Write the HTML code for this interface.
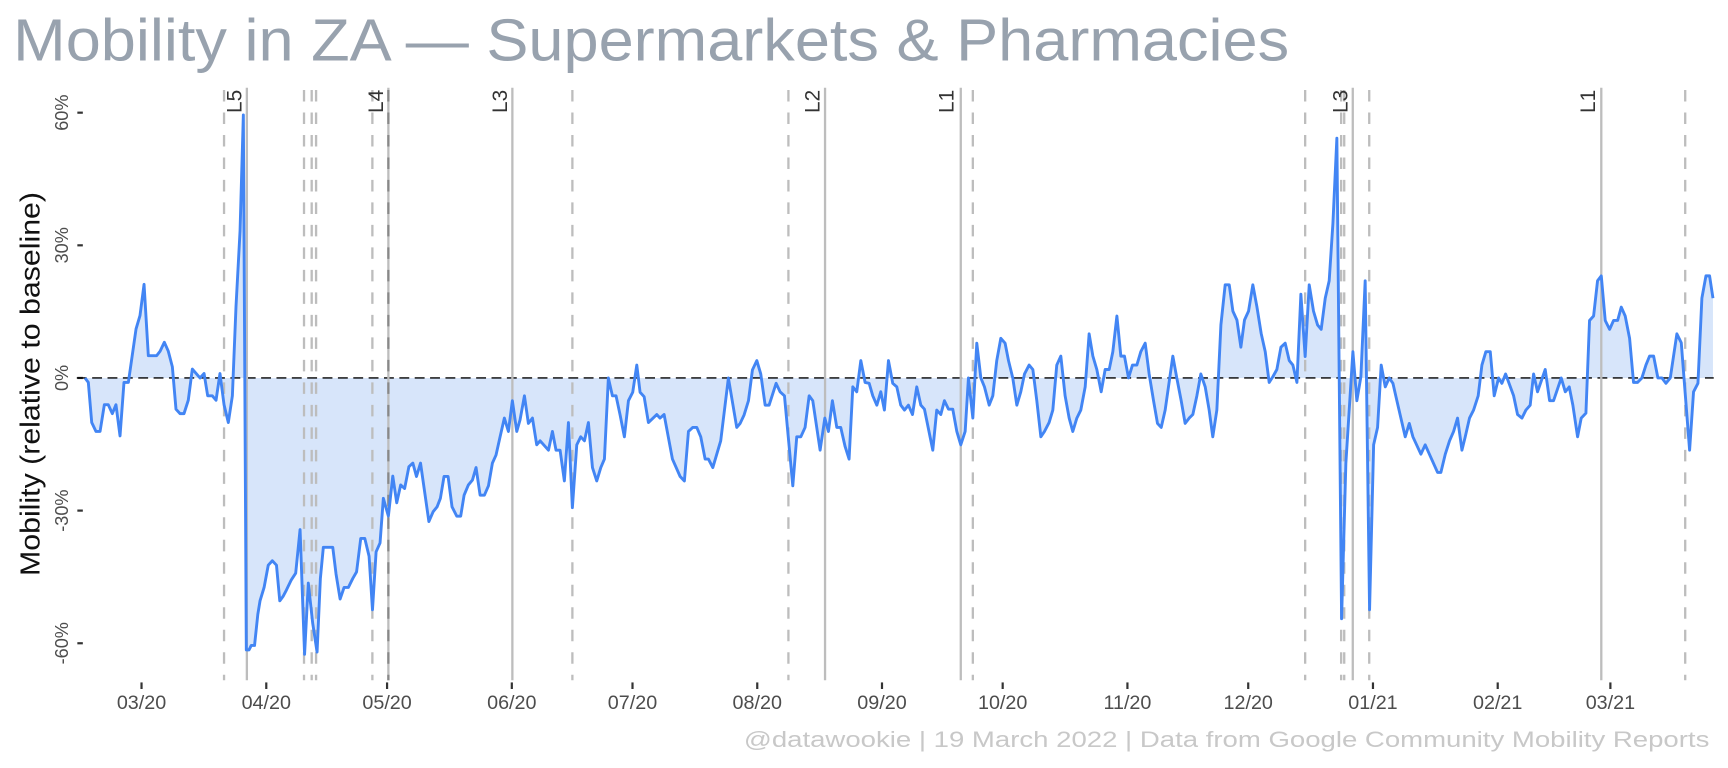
<!DOCTYPE html>
<html><head><meta charset="utf-8"><style>
html,body{margin:0;padding:0;background:#fff;width:1728px;height:768px;overflow:hidden}
svg{display:block}
text{font-family:"Liberation Sans",Arial,sans-serif}
</style></head><body>
<svg width="1728" height="768" viewBox="0 0 1575 700" xmlns="http://www.w3.org/2000/svg">
<text x="12" y="55" font-size="54" fill="#98a2ae" textLength="1163" lengthAdjust="spacingAndGlyphs">Mobility in ZA — Supermarkets &amp; Pharmacies</text>
<text transform="translate(36,350) rotate(-90)" text-anchor="middle" font-size="25" fill="#111" textLength="350" lengthAdjust="spacingAndGlyphs">Mobility (relative to baseline)</text>
<g font-size="16.5" fill="#4d4d4d" text-anchor="middle">
<text transform="translate(62,102.7) rotate(-90)">60%</text>
<text transform="translate(62,223.6) rotate(-90)">30%</text>
<text transform="translate(62,344.5) rotate(-90)">0%</text>
<text transform="translate(62,465.4) rotate(-90)">-30%</text>
<text transform="translate(62,586.3) rotate(-90)">-60%</text>
</g>
<g stroke="#333" stroke-width="2">
<line x1="70.5" x2="75.5" y1="102.7" y2="102.7"/><line x1="70.5" x2="75.5" y1="223.6" y2="223.6"/><line x1="70.5" x2="75.5" y1="344.5" y2="344.5"/><line x1="70.5" x2="75.5" y1="465.4" y2="465.4"/><line x1="70.5" x2="75.5" y1="586.3" y2="586.3"/>
<line x1="129" x2="129" y1="622" y2="628"/><line x1="242.7" x2="242.7" y1="622" y2="628"/><line x1="352.8" x2="352.8" y1="622" y2="628"/><line x1="466.5" x2="466.5" y1="622" y2="628"/><line x1="576.5" x2="576.5" y1="622" y2="628"/><line x1="690.2" x2="690.2" y1="622" y2="628"/><line x1="803.9" x2="803.9" y1="622" y2="628"/><line x1="913.9" x2="913.9" y1="622" y2="628"/><line x1="1027.6" x2="1027.6" y1="622" y2="628"/><line x1="1137.7" x2="1137.7" y1="622" y2="628"/><line x1="1251.4" x2="1251.4" y1="622" y2="628"/><line x1="1365.1" x2="1365.1" y1="622" y2="628"/><line x1="1467.8" x2="1467.8" y1="622" y2="628"/>
</g>
<g font-size="18" fill="#4d4d4d" text-anchor="middle">
<text x="129" y="646">03/20</text><text x="242.7" y="646">04/20</text><text x="352.8" y="646">05/20</text><text x="466.5" y="646">06/20</text><text x="576.5" y="646">07/20</text><text x="690.2" y="646">08/20</text><text x="803.9" y="646">09/20</text><text x="913.9" y="646">10/20</text><text x="1027.6" y="646">11/20</text><text x="1137.7" y="646">12/20</text><text x="1251.4" y="646">01/21</text><text x="1365.1" y="646">02/21</text><text x="1467.8" y="646">03/21</text>
</g>
<text x="1558" y="681" font-size="20" fill="#c8c8c8" text-anchor="end" textLength="880" lengthAdjust="spacingAndGlyphs">@datawookie | 19 March 2022 | Data from Google Community Mobility Reports</text>
<g transform="translate(0,344.5) scale(1,-4.063)">
<polygon fill="#d7e5fa" points="77.5,0 80.5,-1 83.6,-10 87.5,-12 91.2,-12 95.1,-6 98.7,-6 102.4,-8 105.7,-6 109.4,-13 113,-1 117,-1 124,11 127.6,14 131.3,21 135.2,5 142.8,5 145.9,6 149.8,8 153.4,6 157.1,2.5 160.4,-7 164.1,-8 167.7,-8 171.6,-5 175.3,2 182.3,0 186,1 189.3,-4 193.5,-4 196.9,-5 200.5,1 204.2,-6 208.1,-10 211.8,-4 215.1,16 218.8,33 221.8,59 224.5,-61 227,-61 229,-60 232,-60 235,-53 237,-50 240.7,-47 244.5,-42 248.2,-41 252,-42 255,-50 258,-49 261,-47.6 265.5,-45.3 269.5,-43.8 273.5,-34 277.6,-62 281,-46 285,-55 289,-61.5 292,-45 294.7,-38 303.3,-38 306.3,-44 310,-49.6 313.6,-47 317.5,-47 321.5,-45 325,-43.5 328.8,-36 332.5,-36 336.4,-40 339.5,-52 342.8,-39 346.4,-37 349.4,-27 354,-31 358,-22 361.6,-28 365.2,-24 368.8,-24.8 372.7,-19.9 376.3,-19.1 379.6,-22.1 383.3,-19.1 390.9,-32.2 394.8,-30 398.4,-28.9 401.4,-27 404.7,-22.1 408.4,-22.1 412,-28.9 416.3,-31 419.9,-31 423,-26.3 426.9,-24 430.6,-22.9 433.9,-20.1 437.6,-26.3 441.5,-26.3 445.2,-24.2 448.8,-19.1 452.1,-17.3 455.8,-13.2 459.7,-9 463.4,-12 467,-5.1 471,-12 474,-9.4 478,-4 481.6,-10.2 485.3,-9 489.2,-15 492.3,-14.1 499.9,-16.2 503.5,-12 506.8,-16.2 510.5,-16.2 514.4,-23.1 518.1,-10 521.7,-29.1 525.7,-15 529.3,-13.2 532.7,-14.1 536.3,-10 540,-20.1 543.9,-23.1 547.6,-20.1 550.9,-18.2 554.5,0 558.2,-4 561.5,-4 565.2,-8.3 569.1,-13.2 572.8,-5.1 576.7,-3.2 580.4,2.9 583.4,-3.2 587.1,-4.2 591,-10 598.6,-8.2 601.6,-9 605.3,-8.2 612.9,-18.2 619.9,-22.1 623.8,-23.1 627.5,-12 631.4,-11.1 635.1,-11.1 638.7,-13.2 642.7,-18.2 645.7,-18.2 649.7,-20.1 656.9,-14.1 663.9,0 671.5,-11.1 674.6,-10.2 678.2,-8.3 682.2,-5.1 685.8,1.8 689.8,3.9 693.4,0.9 697.4,-6.1 701,-6.1 707.4,-1.2 711,-3.1 715,-4 722.6,-24.2 726.2,-13.2 729.9,-13.2 733.8,-11.1 737.5,-4 740.8,-5.1 747.5,-16.2 751.8,-9 755.1,-12 758.7,-5.1 762.7,-11.1 766.3,-11.1 770.3,-15.4 773.9,-18.2 777.3,-2 780.9,-3.1 784.6,3.9 788.5,-1 792.2,-1.2 795.5,-4 799.2,-6.1 802.8,-3.1 806.1,-7.2 809.8,3.9 813.7,-1.2 817.4,-2 821,-6.1 824.4,-7.2 828,-6.1 831.7,-8.2 835.6,-2 839.3,-6.1 842.6,-7 850.2,-16.2 853.8,-7.2 857.5,-8.2 860.8,-5.1 864.5,-7 868.4,-7 872.1,-12 875.7,-15 879.7,-12 882.7,0 886.7,-9 890.3,7.8 894,0 897.3,-2 901.6,-6.1 904.9,-4 908.5,3.9 912.2,8.9 916.1,7.8 919.2,3.9 923.1,0 926.8,-6.1 930.4,-3.1 933.8,0.9 938,2.9 941.4,1.9 945,-5.1 948.7,-13.2 952,-12 956.2,-10 959.6,-7.2 963.2,2.9 966.9,4.9 970.8,-4 974.5,-9 977.8,-12 981.5,-9 985.1,-7.2 989.1,-2 992.7,9.9 996.1,4.9 999.7,1.9 1003.7,-3.1 1007.3,1.9 1011,1.9 1014.3,5.9 1018,13.9 1021.6,4.9 1024.9,4.9 1028.6,0 1032.2,2.9 1036.2,2.9 1039.8,5.9 1043.8,7.8 1047.4,0.9 1051.4,-5.1 1055,-10.2 1058.4,-11.1 1062,-7.2 1069,4.9 1072.6,0 1076.6,-5.1 1080.2,-10.2 1083.9,-9 1087.2,-8.2 1090.9,-4 1094.5,0.9 1098.5,-2 1102.1,-7.2 1105.4,-13.2 1109.1,-7.2 1112.8,11.9 1116.7,20.9 1120.4,20.9 1123.7,15 1127.4,13 1131,6.9 1134.3,13 1138,15 1141.9,20.9 1145.6,16 1149.5,10 1153.2,5.9 1156.8,-1 1160.2,0.3 1163.8,1.9 1167.5,6.9 1171.4,7.8 1175.1,3.9 1178.4,2.9 1182.1,-1 1185.7,18.8 1189.6,4.8 1193.3,20.9 1197.2,15 1200.9,11.9 1204.2,10.9 1207.9,17.9 1211.5,21.8 1214.9,34.7 1218.5,53.8 1222.8,-54 1226.7,-19.1 1233.1,5.9 1236.7,-5.1 1240.4,0.3 1244.3,21.8 1248.3,-52 1252,-15 1255.6,-11.1 1258.9,2.9 1262.6,-2 1266.2,0 1269.6,-1.2 1273.2,-5.1 1280.8,-13.2 1284.5,-10.2 1287.8,-13.2 1295.1,-17.1 1299,-15 1310.3,-21.2 1313.3,-21.2 1317.3,-17.1 1321.2,-14.1 1324.9,-12 1328.5,-9 1332.5,-16.2 1335.5,-13.2 1339.4,-9 1343.1,-7.2 1347.3,-4 1350.7,2.9 1354.3,5.9 1358.3,5.9 1361.9,-4 1365.9,0 1368.9,-1.2 1372.3,0.9 1379.6,-4 1383.2,-8.2 1387.2,-9 1390.8,-7.2 1394.7,-6.1 1397.8,0.9 1401.4,-3.1 1408.4,1.9 1412.4,-5.1 1416,-5.1 1423,0 1426.7,-3.1 1430.3,-2 1433.6,-6.1 1437.9,-13.2 1441.2,-9 1445.5,-7.9 1448.8,12.9 1452.5,13.9 1456.1,21.8 1459.5,22.9 1463.1,12.9 1467.1,10.9 1470.7,12.9 1474.4,12.9 1477.7,15.9 1481.3,13.9 1485.3,8.9 1488.9,-1 1492.6,-1 1496.5,0 1500.2,2.9 1503.5,4.9 1507.2,4.9 1511.1,0 1514.8,0 1518.4,-1.2 1522.4,0 1528.4,9.9 1532.4,7.9 1540,-16.2 1543.6,-3.1 1547.6,-1.2 1551.2,17.9 1554.9,22.9 1558.2,22.9 1561.3,17.9 1561.3,0"/>
</g>
<line x1="70" x2="1562" y1="344.5" y2="344.5" stroke="#000" stroke-width="1.3" stroke-dasharray="9,5"/>
<g stroke="#bdbdbd" stroke-width="2.1">
<line x1="225" x2="225" y1="80" y2="620"/><line x1="354" x2="354" y1="80" y2="620"/><line x1="467" x2="467" y1="80" y2="620"/><line x1="752" x2="752" y1="80" y2="620"/><line x1="875.7" x2="875.7" y1="80" y2="620"/><line x1="1233" x2="1233" y1="80" y2="620"/><line x1="1459.5" x2="1459.5" y1="80" y2="620"/>
</g>
<g stroke="#bdbdbd" stroke-width="2.1" stroke-dasharray="10.5,10">
<line x1="204.2" x2="204.2" y1="82" y2="620"/><line x1="277.1" x2="277.1" y1="82" y2="620"/><line x1="284.1" x2="284.1" y1="82" y2="620"/><line x1="288.1" x2="288.1" y1="82" y2="620"/><line x1="339.4" x2="339.4" y1="82" y2="620"/><line x1="521.7" x2="521.7" y1="82" y2="620"/><line x1="718.6" x2="718.6" y1="82" y2="620"/><line x1="886.7" x2="886.7" y1="82" y2="620"/><line x1="1189.6" x2="1189.6" y1="82" y2="620"/><line x1="1222.4" x2="1222.4" y1="82" y2="620"/><line x1="1225.2" x2="1225.2" y1="82" y2="620"/><line x1="1248" x2="1248" y1="82" y2="620"/><line x1="1536" x2="1536" y1="82" y2="620"/>
<line x1="354" x2="354" y1="82" y2="620" stroke="#888"/>
</g>
<g transform="translate(0,344.5) scale(1,-4.063)">
<polyline fill="none" stroke="#4285f4" stroke-width="2.9" stroke-linejoin="round" vector-effect="non-scaling-stroke" points="77.5,0 80.5,-1 83.6,-10 87.5,-12 91.2,-12 95.1,-6 98.7,-6 102.4,-8 105.7,-6 109.4,-13 113,-1 117,-1 124,11 127.6,14 131.3,21 135.2,5 142.8,5 145.9,6 149.8,8 153.4,6 157.1,2.5 160.4,-7 164.1,-8 167.7,-8 171.6,-5 175.3,2 182.3,0 186,1 189.3,-4 193.5,-4 196.9,-5 200.5,1 204.2,-6 208.1,-10 211.8,-4 215.1,16 218.8,33 221.8,59 224.5,-61 227,-61 229,-60 232,-60 235,-53 237,-50 240.7,-47 244.5,-42 248.2,-41 252,-42 255,-50 258,-49 261,-47.6 265.5,-45.3 269.5,-43.8 273.5,-34 277.6,-62 281,-46 285,-55 289,-61.5 292,-45 294.7,-38 303.3,-38 306.3,-44 310,-49.6 313.6,-47 317.5,-47 321.5,-45 325,-43.5 328.8,-36 332.5,-36 336.4,-40 339.5,-52 342.8,-39 346.4,-37 349.4,-27 354,-31 358,-22 361.6,-28 365.2,-24 368.8,-24.8 372.7,-19.9 376.3,-19.1 379.6,-22.1 383.3,-19.1 390.9,-32.2 394.8,-30 398.4,-28.9 401.4,-27 404.7,-22.1 408.4,-22.1 412,-28.9 416.3,-31 419.9,-31 423,-26.3 426.9,-24 430.6,-22.9 433.9,-20.1 437.6,-26.3 441.5,-26.3 445.2,-24.2 448.8,-19.1 452.1,-17.3 455.8,-13.2 459.7,-9 463.4,-12 467,-5.1 471,-12 474,-9.4 478,-4 481.6,-10.2 485.3,-9 489.2,-15 492.3,-14.1 499.9,-16.2 503.5,-12 506.8,-16.2 510.5,-16.2 514.4,-23.1 518.1,-10 521.7,-29.1 525.7,-15 529.3,-13.2 532.7,-14.1 536.3,-10 540,-20.1 543.9,-23.1 547.6,-20.1 550.9,-18.2 554.5,0 558.2,-4 561.5,-4 565.2,-8.3 569.1,-13.2 572.8,-5.1 576.7,-3.2 580.4,2.9 583.4,-3.2 587.1,-4.2 591,-10 598.6,-8.2 601.6,-9 605.3,-8.2 612.9,-18.2 619.9,-22.1 623.8,-23.1 627.5,-12 631.4,-11.1 635.1,-11.1 638.7,-13.2 642.7,-18.2 645.7,-18.2 649.7,-20.1 656.9,-14.1 663.9,0 671.5,-11.1 674.6,-10.2 678.2,-8.3 682.2,-5.1 685.8,1.8 689.8,3.9 693.4,0.9 697.4,-6.1 701,-6.1 707.4,-1.2 711,-3.1 715,-4 722.6,-24.2 726.2,-13.2 729.9,-13.2 733.8,-11.1 737.5,-4 740.8,-5.1 747.5,-16.2 751.8,-9 755.1,-12 758.7,-5.1 762.7,-11.1 766.3,-11.1 770.3,-15.4 773.9,-18.2 777.3,-2 780.9,-3.1 784.6,3.9 788.5,-1 792.2,-1.2 795.5,-4 799.2,-6.1 802.8,-3.1 806.1,-7.2 809.8,3.9 813.7,-1.2 817.4,-2 821,-6.1 824.4,-7.2 828,-6.1 831.7,-8.2 835.6,-2 839.3,-6.1 842.6,-7 850.2,-16.2 853.8,-7.2 857.5,-8.2 860.8,-5.1 864.5,-7 868.4,-7 872.1,-12 875.7,-15 879.7,-12 882.7,0 886.7,-9 890.3,7.8 894,0 897.3,-2 901.6,-6.1 904.9,-4 908.5,3.9 912.2,8.9 916.1,7.8 919.2,3.9 923.1,0 926.8,-6.1 930.4,-3.1 933.8,0.9 938,2.9 941.4,1.9 945,-5.1 948.7,-13.2 952,-12 956.2,-10 959.6,-7.2 963.2,2.9 966.9,4.9 970.8,-4 974.5,-9 977.8,-12 981.5,-9 985.1,-7.2 989.1,-2 992.7,9.9 996.1,4.9 999.7,1.9 1003.7,-3.1 1007.3,1.9 1011,1.9 1014.3,5.9 1018,13.9 1021.6,4.9 1024.9,4.9 1028.6,0 1032.2,2.9 1036.2,2.9 1039.8,5.9 1043.8,7.8 1047.4,0.9 1051.4,-5.1 1055,-10.2 1058.4,-11.1 1062,-7.2 1069,4.9 1072.6,0 1076.6,-5.1 1080.2,-10.2 1083.9,-9 1087.2,-8.2 1090.9,-4 1094.5,0.9 1098.5,-2 1102.1,-7.2 1105.4,-13.2 1109.1,-7.2 1112.8,11.9 1116.7,20.9 1120.4,20.9 1123.7,15 1127.4,13 1131,6.9 1134.3,13 1138,15 1141.9,20.9 1145.6,16 1149.5,10 1153.2,5.9 1156.8,-1 1160.2,0.3 1163.8,1.9 1167.5,6.9 1171.4,7.8 1175.1,3.9 1178.4,2.9 1182.1,-1 1185.7,18.8 1189.6,4.8 1193.3,20.9 1197.2,15 1200.9,11.9 1204.2,10.9 1207.9,17.9 1211.5,21.8 1214.9,34.7 1218.5,53.8 1222.8,-54 1226.7,-19.1 1233.1,5.9 1236.7,-5.1 1240.4,0.3 1244.3,21.8 1248.3,-52 1252,-15 1255.6,-11.1 1258.9,2.9 1262.6,-2 1266.2,0 1269.6,-1.2 1273.2,-5.1 1280.8,-13.2 1284.5,-10.2 1287.8,-13.2 1295.1,-17.1 1299,-15 1310.3,-21.2 1313.3,-21.2 1317.3,-17.1 1321.2,-14.1 1324.9,-12 1328.5,-9 1332.5,-16.2 1335.5,-13.2 1339.4,-9 1343.1,-7.2 1347.3,-4 1350.7,2.9 1354.3,5.9 1358.3,5.9 1361.9,-4 1365.9,0 1368.9,-1.2 1372.3,0.9 1379.6,-4 1383.2,-8.2 1387.2,-9 1390.8,-7.2 1394.7,-6.1 1397.8,0.9 1401.4,-3.1 1408.4,1.9 1412.4,-5.1 1416,-5.1 1423,0 1426.7,-3.1 1430.3,-2 1433.6,-6.1 1437.9,-13.2 1441.2,-9 1445.5,-7.9 1448.8,12.9 1452.5,13.9 1456.1,21.8 1459.5,22.9 1463.1,12.9 1467.1,10.9 1470.7,12.9 1474.4,12.9 1477.7,15.9 1481.3,13.9 1485.3,8.9 1488.9,-1 1492.6,-1 1496.5,0 1500.2,2.9 1503.5,4.9 1507.2,4.9 1511.1,0 1514.8,0 1518.4,-1.2 1522.4,0 1528.4,9.9 1532.4,7.9 1540,-16.2 1543.6,-3.1 1547.6,-1.2 1551.2,17.9 1554.9,22.9 1558.2,22.9 1561.3,17.9"/>
</g>
<g font-size="19" fill="#333">
<text transform="translate(220,103) rotate(-90)">L5</text>
<text transform="translate(349,103) rotate(-90)">L4</text>
<text transform="translate(462,103) rotate(-90)">L3</text>
<text transform="translate(747,103) rotate(-90)">L2</text>
<text transform="translate(869,103) rotate(-90)">L1</text>
<text transform="translate(1228,103) rotate(-90)">L3</text>
<text transform="translate(1454,103) rotate(-90)">L1</text>
</g>
</svg>
</body></html>
